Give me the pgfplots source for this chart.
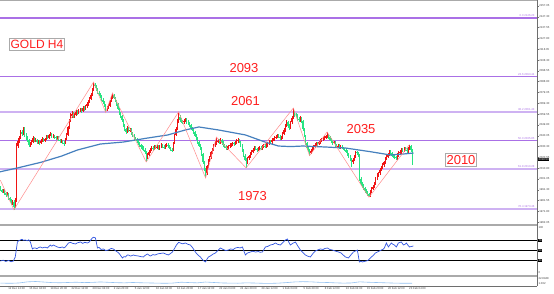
\documentclass[border=0pt]{standalone}
\usepackage{pgfplots}
\pgfplotsset{compat=1.18}
\usepackage{pgfplotstable}
\usepackage{fontspec}
\setmainfont{Liberation Sans}
\definecolor{upc}{RGB}{240,20,20}
\definecolor{dnc}{RGB}{40,228,130}
\definecolor{fibd}{RGB}{170,112,230}
\definecolor{fibl}{RGB}{206,178,242}
\definecolor{mac}{RGB}{70,128,190}
\definecolor{rsic}{RGB}{50,85,225}
\definecolor{zzc}{RGB}{255,140,140}
\definecolor{txr}{RGB}{255,30,30}
\definecolor{sep}{RGB}{170,170,170}
\definecolor{axc}{RGB}{110,110,110}
\definecolor{lbc}{RGB}{150,195,240}
\newcommand{\tinyf}{\fontsize{2.8}{3.2}\selectfont}

\pgfplotstableread{
o h l c
1993.0 1994.2 1989.8 1991.0
1991.0 1992.3 1988.0 1989.5
1989.5 1992.0 1988.6 1990.8
1990.8 1991.9 1986.9 1988.0
1988.0 1989.0 1984.8 1986.2
1986.2 1989.1 1985.4 1987.5
1987.5 1988.3 1982.2 1983.5
1983.5 1985.0 1980.6 1982.0
1982.0 1983.2 1977.5 1979.0
1979.0 1982.4 1977.9 1980.5
1980.5 1981.6 1973.2 1976.0
1976.0 1983.5 1975.1 1982.0
1982.0 2033.5 1980.5 2031.0
2031.0 2038.2 2029.0 2035.5
2035.5 2040.1 2033.8 2038.0
2038.0 2045.0 2036.9 2043.0
2043.0 2045.3 2039.6 2041.5
2041.5 2048.3 2040.4 2046.5
2046.5 2047.6 2039.0 2040.5
2040.5 2042.1 2036.3 2038.0
2038.0 2039.4 2034.2 2036.0
2036.0 2037.0 2029.8 2031.5
2031.5 2034.6 2030.2 2033.0
2033.0 2036.0 2031.9 2034.5
2034.5 2039.6 2033.3 2038.0
2038.0 2039.2 2034.4 2035.5
2035.5 2038.0 2034.1 2036.5
2036.5 2037.4 2032.6 2034.0
2034.0 2036.3 2032.9 2035.0
2035.0 2036.1 2032.0 2033.5
2033.5 2036.8 2032.4 2035.5
2035.5 2038.6 2034.3 2037.0
2037.0 2038.1 2034.0 2035.5
2035.5 2038.3 2034.6 2037.0
2037.0 2041.0 2036.1 2039.5
2039.5 2040.7 2036.8 2038.0
2038.0 2042.0 2037.2 2040.5
2040.5 2043.0 2039.3 2041.0
2041.0 2042.2 2037.7 2039.0
2039.0 2041.5 2037.9 2040.0
2040.0 2041.1 2037.0 2038.5
2038.5 2039.8 2036.0 2037.5
2037.5 2039.9 2036.2 2038.5
2038.5 2039.4 2034.8 2036.0
2036.0 2037.2 2033.6 2035.0
2035.0 2036.9 2033.8 2035.5
2035.5 2036.4 2032.1 2033.5
2033.5 2034.8 2030.9 2033.0
2033.0 2038.3 2032.2 2037.0
2037.0 2042.6 2036.1 2041.0
2041.0 2049.2 2040.0 2047.5
2047.5 2055.3 2046.2 2053.5
2053.5 2060.9 2052.0 2058.0
2058.0 2062.5 2056.4 2060.0
2060.0 2061.1 2055.9 2057.5
2057.5 2060.8 2055.7 2059.0
2059.0 2063.0 2058.0 2061.5
2061.5 2062.9 2058.8 2060.5
2060.5 2064.1 2059.4 2062.5
2062.5 2065.2 2061.0 2063.5
2063.5 2064.8 2060.5 2062.0
2062.0 2066.4 2061.1 2065.0
2065.0 2066.5 2062.6 2064.0
2064.0 2068.0 2063.1 2066.5
2066.5 2070.1 2065.4 2068.5
2068.5 2072.0 2067.2 2070.5
2070.5 2075.2 2069.6 2073.5
2073.5 2078.8 2072.4 2077.0
2077.0 2083.4 2076.0 2081.5
2081.5 2088.4 2080.6 2086.0
2086.0 2087.3 2082.9 2084.5
2084.5 2085.6 2080.4 2082.0
2082.0 2083.4 2077.5 2079.0
2079.0 2080.7 2075.9 2077.5
2077.5 2078.9 2073.8 2075.0
2075.0 2076.6 2071.0 2072.5
2072.5 2073.8 2068.3 2070.0
2070.0 2071.2 2066.0 2067.5
2067.5 2068.6 2061.0 2063.5
2063.5 2067.0 2062.3 2065.5
2065.5 2068.5 2064.1 2067.0
2067.0 2072.4 2066.2 2071.0
2071.0 2076.0 2070.0 2074.5
2074.5 2078.6 2073.4 2076.5
2076.5 2077.4 2072.8 2074.0
2074.0 2075.0 2070.1 2071.5
2071.5 2072.6 2067.2 2068.5
2068.5 2069.5 2062.8 2064.0
2064.0 2065.4 2058.6 2060.0
2060.0 2061.2 2056.0 2057.5
2057.5 2058.8 2052.5 2054.0
2054.0 2055.1 2048.0 2049.5
2049.5 2050.6 2044.3 2046.0
2046.0 2047.4 2041.2 2043.5
2043.5 2048.8 2042.6 2047.0
2047.0 2048.2 2043.0 2044.5
2044.5 2047.0 2043.2 2045.5
2045.5 2046.6 2040.5 2042.0
2042.0 2043.1 2038.6 2040.0
2040.0 2041.4 2036.5 2038.0
2038.0 2039.2 2035.0 2036.5
2036.5 2037.9 2033.5 2035.0
2035.0 2036.3 2031.6 2033.0
2033.0 2034.4 2030.1 2031.5
2031.5 2032.9 2028.4 2030.0
2030.0 2031.6 2027.5 2029.0
2029.0 2030.3 2026.0 2027.5
2027.5 2028.6 2023.4 2025.0
2025.0 2026.2 2016.3 2020.5
2020.5 2024.5 2019.1 2023.0
2023.0 2027.0 2021.8 2025.5
2025.5 2028.6 2024.2 2027.0
2027.0 2030.5 2025.8 2029.0
2029.0 2030.4 2026.6 2028.0
2028.0 2032.0 2026.9 2030.5
2030.5 2031.7 2027.6 2029.0
2029.0 2031.3 2027.7 2030.0
2030.0 2031.2 2027.0 2028.5
2028.5 2032.0 2027.4 2030.5
2030.5 2033.0 2029.3 2031.5
2031.5 2032.6 2028.7 2030.0
2030.0 2031.2 2028.0 2029.5
2029.5 2032.4 2028.3 2031.0
2031.0 2033.7 2029.8 2032.0
2032.0 2033.2 2029.1 2030.5
2030.5 2031.6 2027.6 2029.0
2029.0 2030.2 2026.1 2027.5
2027.5 2028.8 2025.0 2027.0
2027.0 2034.5 2026.0 2033.0
2033.0 2042.0 2032.1 2040.5
2040.5 2047.8 2039.4 2046.0
2046.0 2055.0 2045.0 2053.0
2053.0 2061.5 2051.6 2057.0
2057.0 2058.3 2052.4 2054.0
2054.0 2055.6 2051.2 2053.0
2053.0 2054.4 2050.3 2052.0
2052.0 2055.0 2050.8 2053.5
2053.5 2056.3 2052.2 2054.5
2054.5 2055.8 2051.0 2052.5
2052.5 2053.9 2049.6 2051.0
2051.0 2052.3 2048.0 2049.5
2049.5 2050.6 2045.4 2047.0
2047.0 2048.3 2044.0 2045.5
2045.5 2046.9 2042.0 2043.5
2043.5 2044.6 2038.7 2040.0
2040.0 2041.3 2036.5 2038.0
2038.0 2039.2 2032.6 2034.0
2034.0 2035.1 2029.4 2031.0
2031.0 2032.5 2027.3 2029.0
2029.0 2030.0 2021.8 2023.5
2023.5 2024.6 2014.2 2016.0
2016.0 2017.2 2008.1 2010.0
2010.0 2011.3 2001.8 2006.0
2006.0 2014.0 2004.9 2012.5
2012.5 2019.0 2011.3 2017.5
2017.5 2022.0 2016.2 2020.5
2020.5 2026.4 2019.4 2025.0
2025.0 2029.0 2023.6 2027.5
2027.5 2032.6 2026.2 2031.0
2031.0 2034.8 2029.7 2033.0
2033.0 2038.8 2031.9 2034.5
2034.5 2037.2 2033.0 2035.5
2035.5 2036.9 2032.4 2034.0
2034.0 2037.6 2032.8 2036.0
2036.0 2037.0 2032.0 2033.5
2033.5 2034.8 2030.0 2031.5
2031.5 2032.7 2028.5 2030.0
2030.0 2031.3 2027.0 2028.5
2028.5 2031.0 2027.2 2029.5
2029.5 2032.0 2028.1 2030.5
2030.5 2033.0 2029.2 2031.5
2031.5 2033.6 2030.1 2032.0
2032.0 2034.5 2030.8 2033.0
2033.0 2034.4 2031.0 2032.5
2032.5 2035.6 2031.4 2034.0
2034.0 2036.7 2032.9 2035.0
2035.0 2037.8 2033.6 2036.0
2036.0 2037.1 2033.2 2034.5
2034.5 2035.6 2030.0 2031.5
2031.5 2032.6 2025.6 2027.0
2027.0 2028.1 2020.4 2022.0
2022.0 2023.2 2016.8 2018.5
2018.5 2019.7 2011.0 2016.0
2016.0 2021.0 2014.7 2019.5
2019.5 2023.0 2018.2 2021.5
2021.5 2025.6 2020.3 2024.0
2024.0 2027.1 2022.9 2025.5
2025.5 2028.6 2024.3 2027.0
2027.0 2030.5 2025.8 2029.0
2029.0 2030.3 2026.7 2028.0
2028.0 2029.3 2025.6 2027.0
2027.0 2029.5 2025.9 2028.0
2028.0 2030.6 2026.8 2029.0
2029.0 2030.4 2027.0 2028.5
2028.5 2032.0 2027.3 2030.5
2030.5 2032.6 2029.0 2031.0
2031.0 2032.3 2029.2 2030.5
2030.5 2033.0 2029.1 2031.5
2031.5 2034.6 2030.2 2033.0
2033.0 2036.0 2031.8 2034.5
2034.5 2035.9 2032.6 2034.0
2034.0 2037.5 2032.9 2036.0
2036.0 2038.0 2034.8 2036.5
2036.5 2039.6 2035.2 2038.0
2038.0 2040.6 2036.7 2039.0
2039.0 2042.0 2037.9 2040.5
2040.5 2041.8 2037.6 2039.0
2039.0 2040.2 2036.0 2037.5
2037.5 2039.5 2035.9 2038.0
2038.0 2043.0 2036.8 2041.5
2041.5 2046.6 2040.2 2045.0
2045.0 2050.8 2043.7 2049.0
2049.0 2054.3 2047.6 2052.5
2052.5 2053.6 2047.2 2049.0
2049.0 2050.2 2045.3 2047.0
2047.0 2053.6 2045.9 2052.0
2052.0 2057.8 2050.6 2056.0
2056.0 2065.0 2055.0 2060.5
2060.5 2062.4 2057.3 2059.0
2059.0 2060.7 2056.8 2058.5
2058.5 2059.6 2053.4 2055.0
2055.0 2056.5 2052.3 2054.0
2054.0 2057.6 2052.8 2056.0
2056.0 2057.1 2051.4 2053.0
2053.0 2054.1 2044.3 2046.0
2046.0 2047.2 2038.5 2040.0
2040.0 2041.1 2031.2 2033.0
2033.0 2034.3 2026.9 2028.5
2028.5 2030.0 2025.4 2027.0
2027.0 2028.3 2022.0 2024.5
2024.5 2028.0 2023.2 2026.5
2026.5 2030.0 2025.1 2028.5
2028.5 2031.5 2027.3 2030.0
2030.0 2033.0 2028.8 2031.5
2031.5 2034.6 2030.4 2033.0
2033.0 2034.3 2031.0 2032.5
2032.5 2035.6 2031.2 2034.0
2034.0 2037.0 2032.9 2035.5
2035.5 2037.6 2034.2 2036.0
2036.0 2039.0 2034.8 2037.5
2037.5 2039.7 2036.3 2038.0
2038.0 2041.0 2036.9 2039.5
2039.5 2043.4 2038.2 2040.5
2040.5 2041.7 2037.0 2038.5
2038.5 2039.6 2035.1 2036.5
2036.5 2037.8 2033.6 2035.0
2035.0 2036.2 2032.0 2033.5
2033.5 2035.5 2032.3 2034.0
2034.0 2035.1 2030.2 2031.5
2031.5 2032.8 2029.1 2030.5
2030.5 2032.4 2029.0 2031.0
2031.0 2032.1 2028.2 2029.5
2029.5 2031.3 2028.1 2030.0
2030.0 2031.2 2027.6 2029.0
2029.0 2030.2 2026.7 2028.0
2028.0 2029.3 2026.0 2027.5
2027.5 2028.6 2024.1 2025.5
2025.5 2026.7 2021.6 2023.0
2023.0 2024.3 2019.5 2021.0
2021.0 2022.2 2016.9 2018.5
2018.5 2019.6 2011.8 2016.0
2016.0 2020.0 2014.6 2018.5
2018.5 2022.5 2017.3 2021.0
2021.0 2026.5 2020.0 2025.0
2025.0 2026.3 2022.6 2024.0
2024.0 2025.4 2021.0 2022.5
2022.5 2023.6 1999.0 2001.0
2001.0 2002.4 1994.9 1996.5
1996.5 1998.0 1993.0 1994.5
1994.5 1996.0 1990.9 1992.5
1992.5 1993.8 1988.4 1990.0
1990.0 1991.5 1987.0 1988.5
1988.5 1990.0 1985.6 1987.0
1987.0 1988.4 1984.5 1985.5
1985.5 1991.0 1984.8 1989.5
1989.5 1993.6 1988.3 1992.0
1992.0 1995.7 1990.6 1994.0
1994.0 1998.0 1992.8 1996.5
1996.5 2002.6 1995.4 2001.0
2001.0 2006.0 1999.7 2004.5
2004.5 2007.7 2003.1 2006.0
2006.0 2011.0 2004.8 2009.5
2009.5 2013.0 2008.2 2011.5
2011.5 2015.1 2010.3 2013.5
2013.5 2017.6 2012.2 2016.0
2016.0 2021.0 2014.9 2019.5
2019.5 2022.6 2018.1 2021.0
2021.0 2024.7 2019.6 2023.0
2023.0 2027.0 2021.9 2025.5
2025.5 2026.8 2022.7 2024.0
2024.0 2025.2 2020.6 2022.0
2022.0 2023.4 2020.0 2021.5
2021.5 2022.9 2019.0 2020.5
2020.5 2021.8 2018.1 2019.5
2019.5 2024.0 2018.3 2022.5
2022.5 2026.0 2021.2 2024.5
2024.5 2026.7 2023.1 2025.0
2025.0 2028.6 2023.9 2027.0
2027.0 2028.8 2025.0 2026.5
2026.5 2030.2 2025.3 2028.5
2028.5 2030.0 2026.0 2027.5
2027.5 2029.0 2024.6 2026.0
2026.0 2029.6 2024.8 2028.0
2028.0 2032.0 2026.9 2030.5
2030.5 2031.6 2025.5 2027.0
2027.0 2028.2 2013.6 2018.5
}\candles

\begin{document}
\begin{tikzpicture}[x=1pt,y=1pt]
\useasboundingbox (0,0) rectangle (554,294);
\fill[white] (0,0) rectangle (554,294);

% ---------------- main price panel ----------------
\begin{axis}[
  at={(0pt,70pt)}, anchor=south west, scale only axis,
  width=537pt, height=223pt,
  xmin=-0.3, xmax=397.48, ymin=1960.33, ymax=2161.59,
  axis x line=none, axis y line*=right,
  y axis line style={draw=axc, line width=0.5pt},
  ytick={1962.05,1971.80,1981.55,1991.30,2001.05,2010.80,2020.55,2030.30,2040.05,2049.80,2059.55,2069.30,2079.05,2088.80,2098.55,2108.30,2118.05,2127.80,2137.55,2147.30,2157.05},
  ytick pos=right, tick align=outside, major tick length=1.5pt,
  ytick style={draw=axc, line width=0.3pt},
  yticklabel style={font=\tinyf, text=black!75, anchor=west, inner sep=0.6pt,
    /pgf/number format/.cd, fixed, fixed zerofill, precision=2, 1000 sep={}, assume math mode=true},
]
% Fibonacci levels
\addplot[fibd, line width=1.1pt, mark=none] coordinates {(-1,2146.23) (400,2146.23)};
\addplot[fibd, line width=1.1pt, mark=none] coordinates {(-1,2093.44) (400,2093.44)};
\addplot[fibl, line width=2pt, mark=none] coordinates {(-1,2061.43) (400,2061.43)};
\addplot[fibd, line width=1.1pt, mark=none] coordinates {(-1,2035.85) (400,2035.85)};
\addplot[fibl, line width=2pt, mark=none] coordinates {(-1,2010.28) (400,2010.28)};
\addplot[fibl, line width=2pt, mark=none] coordinates {(-1,1973.46) (400,1973.46)};

% candles: wicks
\addplot[draw=none, mark=none, forget plot,
  restrict expr to domain={\thisrow{c}-\thisrow{o}}{0:10000},
  error bars/.cd, y dir=both, y explicit, error mark=none,
  error bar style={draw=upc, line width=0.45pt}]
  table[x expr=\coordindex, y=c, y error plus expr=\thisrow{h}-\thisrow{c}, y error minus expr=\thisrow{c}-\thisrow{l}] {\candles};
\addplot[draw=none, mark=none, forget plot,
  restrict expr to domain={\thisrow{o}-\thisrow{c}}{0.001:10000},
  error bars/.cd, y dir=both, y explicit, error mark=none,
  error bar style={draw=dnc, line width=0.45pt}]
  table[x expr=\coordindex, y=c, y error plus expr=\thisrow{h}-\thisrow{c}, y error minus expr=\thisrow{c}-\thisrow{l}] {\candles};
% candles: bodies
\addplot[draw=none, mark=none, forget plot,
  restrict expr to domain={\thisrow{c}-\thisrow{o}}{0:10000},
  error bars/.cd, y dir=minus, y explicit, error mark=none,
  error bar style={draw=upc, line width=1.1pt}]
  table[x expr=\coordindex, y=c, y error minus expr=\thisrow{c}-\thisrow{o}] {\candles};
\addplot[draw=none, mark=none, forget plot,
  restrict expr to domain={\thisrow{o}-\thisrow{c}}{0.001:10000},
  error bars/.cd, y dir=minus, y explicit, error mark=none,
  error bar style={draw=dnc, line width=1.1pt}]
  table[x expr=\coordindex, y=o, y error minus expr=\thisrow{o}-\thisrow{c}] {\candles};

% moving average
\addplot[mac, line width=1.2pt, mark=none] coordinates {
(-1,2007.3)(0,2007.5)(12.6,2010.9)(30,2016.0)(45,2021.5)(57,2027.1)(74,2032.5)(91,2034.3)(109,2037.9)(124,2040.7)(137,2045.2)(147,2047.9)(161.5,2045.2)(181.5,2040.7)(196,2034.3)(206,2030.7)(215,2030.2)(224,2030.7)(241,2029.8)(255.6,2028.9)(274,2025.6)(289,2022.6)(298.5,2023.5)(306,2024.4)};

% zigzag
\addplot[zzc, line width=0.5pt, mark=none] coordinates {
(0,1999.8)(10,1973.2)(69,2088.4)(78,2061.0)(83,2078.6)(108,2016.3)(132,2061.5)(152,2001.8)(160,2038.8)(182,2011.0)(217,2065.0)(229,2022.0)(242,2043.4)(273,1984.5)(303,2032.0)};
\end{axis}

% ---------------- RSI panel ----------------
\begin{axis}[
  at={(0pt,18pt)}, anchor=south west, scale only axis,
  width=537pt, height=51pt,
  xmin=-0.3, xmax=397.48, ymin=0, ymax=100,
  axis lines=none,
]
\addplot[black, line width=0.8pt, mark=none] coordinates {(-1,70) (400,70)};
\addplot[black, line width=0.8pt, mark=none] coordinates {(-1,50) (400,50)};
\addplot[black, line width=0.8pt, mark=none] coordinates {(-1,30) (400,30)};
\addplot[rsic, line width=0.7pt, mark=none] coordinates {
(0,29.4)(2,31)(4,28.5)(6,30.5)(8,28)(9.6,29.4)(11,37.3)(12.6,66.7)(13.5,69)(14.8,70.6)(16,72)(17,70)(18.5,70.6)(20,69)(21,71)(22.2,66.7)(23.7,53)(24.8,55)(25.9,54.9)(27,53.5)(28.5,56)(29.6,56.9)(31,55)(33,56.5)(34.8,54.9)(36,58)(37,60.8)(38,58.5)(39.3,60.8)(40.5,59)(42.2,56.9)(44,55.5)(45.9,56.9)(47,55)(48.1,56.9)(49,60)(50.4,64.7)(52,66)(53.5,64)(55.6,62.8)(57,65)(59.3,66.7)(61,64)(62.5,66)(64.4,64.7)(66,67)(67,71)(68.1,74.5)(69,76)(70.4,74.5)(71.9,54.9)(73,56)(74.5,52)(76.3,53)(78,50)(80,51)(82,54)(83.7,53)(85,50)(86.7,47.1)(88,44)(90.4,35.3)(91.5,38)(92.6,37.3)(94,41)(94.8,41.2)(96.5,39)(98.5,41.2)(100,40)(102.2,39.2)(104,38)(105.9,37.3)(107,40)(108.9,43.2)(110,41)(111.1,39.2)(113,42)(114.5,41)(116.3,43.2)(118,44)(120.7,45.1)(122.5,43)(124.4,41.2)(126,44)(127.4,47.1)(129,54)(130.4,60.8)(132,66)(133.3,64.7)(135,63)(137,64.7)(139,62)(140.7,60.8)(142.5,55)(144.4,47.1)(146,42)(148.1,37.3)(150,31)(151.9,27.5)(153,33)(154.1,37.3)(156,40)(157.5,43)(159.3,45.1)(161,50)(163,54.9)(165,52)(167,50)(168.9,51)(170.5,53)(172.5,52)(174.1,54.9)(176,56)(177.5,55)(179.3,56.9)(180.5,48)(181.5,41.2)(183,45)(185.2,47.1)(187,48.5)(189,47)(191,48)(192.5,46.5)(194.1,47.1)(196.3,56.9)(198,58)(200,60.8)(202,62)(203.7,64.7)(205.5,62)(207.4,60.8)(209,65)(211.1,70.6)(212.6,72.6)(213.7,66)(214.8,60.8)(216.5,64)(218.5,66.7)(220.5,58)(222.2,51)(224,46)(225.9,41.2)(227.5,39)(229.6,37.3)(231.5,44)(233.3,49)(235,51)(237,53)(239,52)(240.5,54)(242.2,54.9)(244,52)(245.9,51)(248,49)(250.4,47.1)(252.5,45)(254,41)(255.6,37.3)(257.8,35.3)(259.5,41)(261.5,47.1)(263,49)(264.4,51)(265.9,27.5)(267,29)(268.1,27.5)(269.5,28.5)(271.1,29.4)(272.5,31)(274,35.3)(276,40)(277.8,45.1)(280,48)(282.2,51)(283.3,52)(284.4,54.9)(285.9,64.7)(287.4,56.9)(288.5,61)(289.6,64.7)(290.8,62)(291.9,60.8)(293.3,56.9)(294.8,64.7)(297,66.7)(298.5,60.8)(299.6,62)(300.7,64.7)(302,60)(303,56.9)(304.5,58)(305.9,58.8)};
\end{axis}

% ---------------- bottom indicator panel + time axis ----------------
\begin{axis}[
  at={(0pt,8pt)}, anchor=south west, scale only axis,
  width=537pt, height=9pt,
  xmin=-0.3, xmax=397.48, ymin=0, ymax=10,
  axis x line*=bottom, axis y line=none,
  x axis line style={draw=axc, line width=0.5pt},
  tick align=outside, major tick length=1.2pt,
  xtick style={draw=axc, line width=0.3pt},
  xtick={5.63,21.26,36.89,52.52,68.15,83.78,99.41,115.04,130.67,146.30,161.93,177.56,193.19,208.81,224.44,240.07,255.70,271.33,286.96,302.59},
  xticklabels={12 Dec 12:00,15 Dec 04:00,19 Dec 20:00,22 Dec 12:00,28 Dec 04:00,2 Jan 20:00,5 Jan 12:00,10 Jan 04:00,12 Jan 20:00,17 Jan 12:00,22 Jan 04:00,24 Jan 20:00,29 Jan 12:00,1 Feb 04:00,5 Feb 20:00,8 Feb 12:00,13 Feb 04:00,15 Feb 20:00,20 Feb 12:00,23 Feb 04:00},
  xticklabel style={font=\tinyf, text=black!75, anchor=north west, inner sep=0.4pt, xshift=-0.3pt},
]
\addplot[lbc, line width=0.6pt, mark=none] coordinates {
(0,3.2)(8,3.0)(14,3.4)(20,4.6)(26,5.0)(32,4.4)(38,3.8)(44,3.6)(50,3.9)(56,4.2)(62,3.8)(68,4.0)(74,4.5)(80,4.1)(86,3.7)(92,3.5)(98,3.9)(104,3.6)(110,3.4)(116,3.2)(122,3.0)(128,3.3)(134,4.2)(140,3.8)(146,3.5)(152,4.4)(158,3.9)(164,3.4)(170,3.2)(176,3.1)(182,3.5)(188,3.3)(194,3.0)(200,2.9)(206,3.2)(212,3.8)(218,4.5)(224,4.8)(230,4.6)(236,4.1)(242,3.9)(248,3.5)(254,3.2)(260,3.4)(266,4.6)(272,4.2)(278,3.9)(284,3.6)(290,3.3)(296,3.1)(302,3.0)(305,3.0)};
\end{axis}

% ---------------- frames and separators ----------------
\draw[sep, line width=1.2pt] (0,293.4) -- (537,293.4);
\fill[sep] (0,68) rectangle (537,70.3);
\fill[sep] (0,17) rectangle (537,19.2);
\draw[axc, line width=0.5pt] (537,8) -- (537,294);

% Fibonacci labels
\begin{scope}[every node/.style={font=\tinyf, inner sep=0.3pt, anchor=south east}]
\node[text=fibd] at (535,276.6) {0.0 2146.23};
\node[text=fibd] at (535,218.1) {23.6 2093.44};
\node[text=fibd] at (535,183.0) {38.2 2061.43};
\node[text=fibd] at (535,154.3) {50.0 2035.85};
\node[text=fibd] at (535,126.3) {61.8 2010.28};
\node[text=fibd] at (535,85.6) {76.4 1973.46};
\end{scope}

% bid price box
\node[fill=black, text=white, font=\tinyf, inner sep=0.5pt, anchor=west] at (538,134.5) {2018.50};

% RSI scale labels
\begin{scope}[every node/.style={font=\tinyf, inner sep=0.4pt, anchor=west}]
\node[text=black!75] at (538,66) {100};
\node[fill=black, text=white] at (538,53.7) {70};
\node[fill=black, text=white] at (538,43.5) {50};
\node[fill=black, text=white] at (538,33.3) {30};
\node[text=black!75] at (538,21) {0};
\node[text=black!75] at (538,15.8) {22.8948};
\node[text=black!75] at (538,10) {1.032};
\end{scope}

% annotations
\node[draw=sep, line width=0.6pt, text=txr, font=\fontsize{12}{12}\selectfont,
  inner xsep=1pt, inner ysep=2pt, text height=8.6pt, text depth=0pt] at (37,249.5) {GOLD H4};
\begin{scope}[every node/.style={text=txr, font=\fontsize{13}{13}\selectfont, inner sep=0pt}]
\node at (244,226) {2093};
\node at (245.5,192.5) {2061};
\node at (361,165) {2035};
\node at (252.5,98) {1973};
\end{scope}
\node[draw=sep, line width=0.6pt, text=txr, font=\fontsize{13}{13}\selectfont,
  inner xsep=1pt, inner ysep=2pt, text height=9.3pt, text depth=0pt] at (461,134.5) {2010};
\end{tikzpicture}
\end{document}
